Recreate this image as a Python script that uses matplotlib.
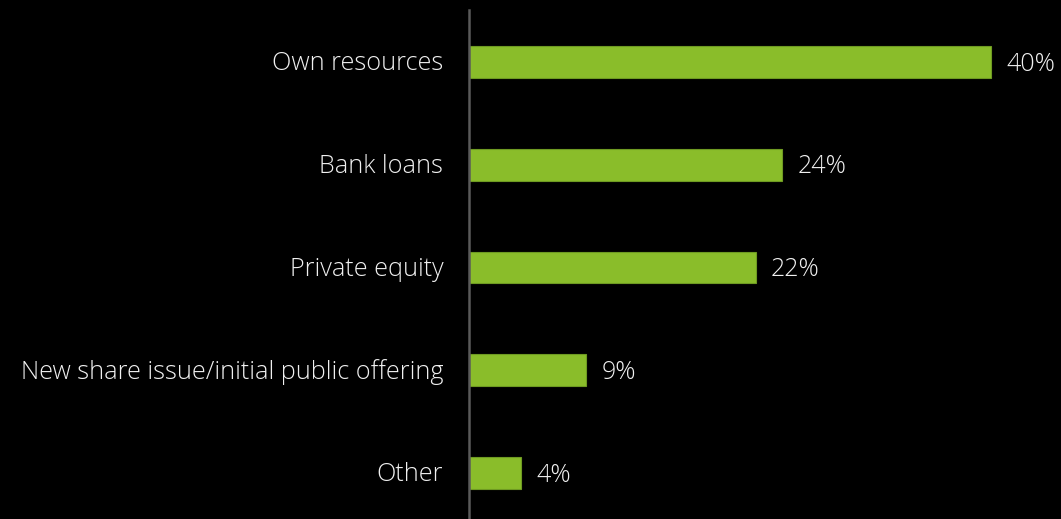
import numpy as np
import matplotlib.pyplot as plt

plt.rcParams['font.family'] = ['Open Sans', 'DejaVu Sans']

# sources of financing, share of respondents (%)
categories = ['Own resources', 'Bank loans', 'Private equity',
              'New share issue/initial public offering', 'Other']
values = [40, 24, 22, 9, 4]

bar_color = '#8ABD2A'
text_color = '#F0F0F0'

fig = plt.figure(figsize=(10.61, 5.19), dpi=100, facecolor='black')
ax = fig.add_axes([469 / 1061, 0, 592 / 1061, 509 / 519], facecolor='black')

y = np.arange(len(categories))
ax.barh(y, values, height=0.31, color=bar_color, edgecolor='#6E9A22', linewidth=0.8)

ax.set_xlim(0, 592 / 13.05)
ax.set_ylim(4.448, -0.506)

for yi, v in zip(y, values):
    ax.text(v + 1.15, yi + 0.02, '%d%%' % v, va='center', ha='left',
            color=text_color, fontsize=18, fontweight='light')

ax.set_yticks(y - 0.01)
ax.set_yticklabels(categories, color=text_color, fontsize=18.2, fontweight='light')
ax.tick_params(axis='y', length=0, pad=18.5)
ax.set_xticks([])

for s in ['top', 'right', 'bottom']:
    ax.spines[s].set_visible(False)
ax.spines['left'].set_color('#5A5A5A')
ax.spines['left'].set_linewidth(1.8)

fig.savefig('out.png', dpi=100, facecolor='black')
